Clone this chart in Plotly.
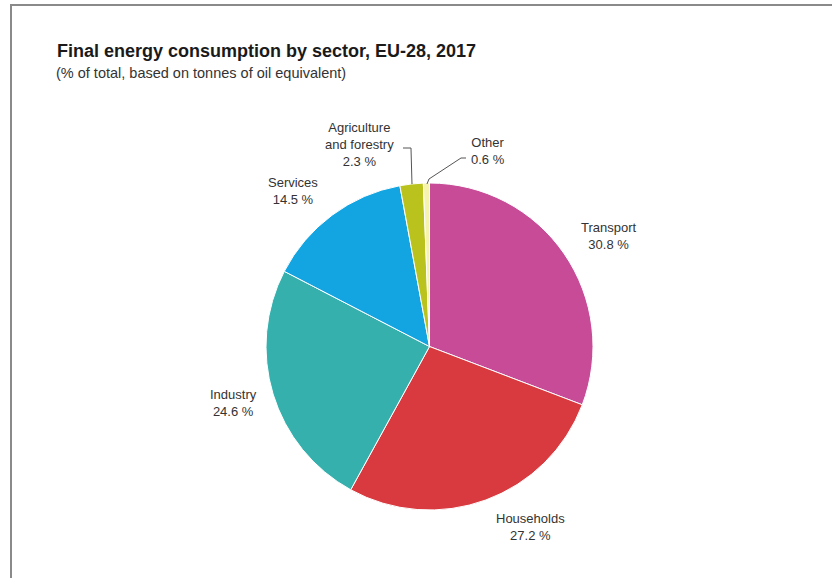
import plotly.graph_objects as go

# Final energy consumption by sector, EU-28, 2017 (% of total)
sectors = ["Transport", "Households", "Industry", "Services",
           "Agriculture and forestry", "Other"]
shares = [30.8, 27.2, 24.6, 14.5, 2.3, 0.6]
label_text = ["Transport", "Households", "Industry", "Services",
              "Agriculture<br>and forestry", "Other"]

colors = ["#C84B97", "#D93A3F", "#35B0AD", "#12A5E2", "#BAC31E", "#F6F3AE"]

W, H = 832, 578
FONT = "Arial, Liberation Sans, sans-serif"


def px(x):
    return x / W


def py(y):
    return 1 - y / H


# pie placement (pixel box of the circle)
cx, cy, r = 429.5, 346.5, 163.5

fig = go.Figure(go.Pie(
    labels=sectors,
    values=shares,
    sort=False,
    direction="clockwise",
    rotation=0,
    marker=dict(colors=colors, line=dict(color="white", width=1)),
    textinfo="none",
    hoverinfo="label+percent",
    showlegend=False,
    domain=dict(x=[px(cx - r), px(cx + r)], y=[py(cy + r), py(cy - r)]),
))

# label anchor points (pixel centres of each text block)
label_pos = {
    "Transport": (609, 236),
    "Households": (530, 527),
    "Industry": (233, 403),
    "Services": (293, 191),
    "Agriculture and forestry": (359, 145),
    "Other": (488, 151),
}

annotations = []
for name, txt, val in zip(sectors, label_text, shares):
    x, y = label_pos[name]
    annotations.append(dict(
        x=px(x), y=py(y), xref="paper", yref="paper",
        text=f"{txt}<br>{val} %", showarrow=False,
        xanchor="center", yanchor="middle", align="center",
        font=dict(family=FONT, size=13, color="#333333"),
    ))

annotations.append(dict(
    x=px(55), y=py(51), xref="paper", yref="paper",
    text="<b>Final energy consumption by sector, EU-28, 2017</b>",
    showarrow=False, xanchor="left", yanchor="middle",
    font=dict(family=FONT, size=18, color="#1a1a1a"),
))
annotations.append(dict(
    x=px(54), y=py(73), xref="paper", yref="paper",
    text="(% of total, based on tonnes of oil equivalent)",
    showarrow=False, xanchor="left", yanchor="middle",
    font=dict(family=FONT, size=14.5, color="#333333"),
))


def path(points):
    return "M " + " L ".join(f"{px(x):.5f},{py(y):.5f}" for x, y in points)


shapes = [
    # outer frame
    dict(type="rect", xref="paper", yref="paper",
         x0=px(11), x1=1.05, y0=-0.05, y1=py(5),
         line=dict(color="#8a8a8a", width=2), fillcolor="rgba(0,0,0,0)"),
    # leader line for Agriculture and forestry
    dict(type="path", xref="paper", yref="paper",
         path=path([(403, 148), (411, 148), (412, 184)]),
         line=dict(color="#555555", width=1)),
    # leader line for Other
    dict(type="path", xref="paper", yref="paper",
         path=path([(466, 158), (461, 158), (429, 179), (427, 184)]),
         line=dict(color="#555555", width=1)),
]

fig.update_layout(
    width=W, height=H,
    margin=dict(l=0, r=0, t=0, b=0),
    paper_bgcolor="white",
    plot_bgcolor="white",
    annotations=annotations,
    shapes=shapes,
)

fig.write_html("out.html")
